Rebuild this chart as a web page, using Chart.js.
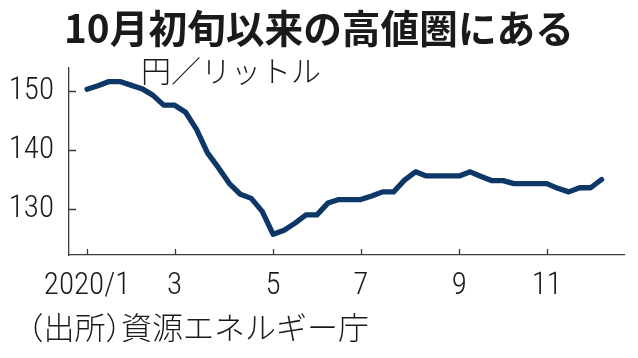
<!DOCTYPE html>
<html>
<head>
<meta charset="utf-8">
<script src="https://cdn.jsdelivr.net/npm/chart.js@4/dist/chart.umd.min.js"></script>
<style>
  html, body { margin: 0; padding: 0; background: #fff; }
  #wrap { position: relative; width: 638px; height: 358px; overflow: hidden; background: #fff; }
  #c { position: absolute; left: 0; top: 0; }
  .t { position: absolute; white-space: nowrap; font-family: "Noto Sans CJK JP", sans-serif; color: #1a1a1a; line-height: 1; }
  #title { left: 0; width: 638px; text-align: center; top: 7px; font-size: 38.7px; font-weight: 700; }
  #unit { left: 141px; top: 54px; font-size: 30px; font-weight: 300; }
  #source { left: 28px; top: 310px; font-size: 31px; font-weight: 300; }
  .h { font-feature-settings: "halt"; }
</style>
</head>
<body>
<div id="wrap">
  <canvas id="c" width="638" height="358"></canvas>
  <div class="t" id="title">10月初旬以来の高値圏にある</div>
  <div class="t" id="unit">円／リットル</div>
  <div class="t" id="source"><span class="h">（</span>出所<span class="h">）</span>資源エネルギー庁</div>
</div>
<script>
// Weekly regular gasoline price, 2020 (yen per litre), one value per week starting first week of January
const prices = [
  150.3, 150.9, 151.6, 151.6, 151.0, 150.4, 149.3, 147.6, 147.6, 146.4,
  143.5, 139.5, 137.0, 134.3, 132.5, 131.8, 129.6, 125.7, 126.4, 127.6,
  129.0, 129.0, 131.0, 131.6, 131.6, 131.6, 132.2, 132.9, 132.9, 134.9,
  136.3, 135.6, 135.6, 135.6, 135.6, 136.3, 135.5, 134.8, 134.8, 134.3,
  134.3, 134.3, 134.3, 133.5, 132.9, 133.6, 133.6, 135.0
];
// Week index at which each month tick sits, and its label
const tickWeeks = [0, 8, 17, 25, 34, 42];
const tickLabels = ['2020/1', '3', '5', '7', '9', '11'];
const yTicks = [130, 140, 150];

const axisColor = '#3a3a3a';
const lineColor = '#0c3766';
const tickFont = { family: "'Roboto Condensed', 'DejaVu Sans Condensed', sans-serif", size: 31, weight: '300' };

const points = prices.map((v, i) => ({ x: i, y: v }));

const innerTicks = {
  id: 'innerTicks',
  afterDraw(chart) {
    const ctx = chart.ctx;
    const xs = chart.scales.x, ys = chart.scales.y;
    const area = chart.chartArea;
    ctx.save();
    ctx.strokeStyle = axisColor;
    ctx.lineWidth = 1.3;
    ctx.beginPath();
    tickWeeks.forEach(w => {
      const px = Math.round(xs.getPixelForValue(w)) + 0.5;
      ctx.moveTo(px, area.bottom);
      ctx.lineTo(px, area.bottom - 6);
    });
    yTicks.forEach(v => {
      const py = Math.round(ys.getPixelForValue(v)) + 0.5;
      ctx.moveTo(area.left, py);
      ctx.lineTo(area.left + 7, py);
    });
    ctx.stroke();
    ctx.restore();
  }
};

new Chart(document.getElementById('c'), {
  type: 'line',
  data: {
    datasets: [{
      data: points,
      borderColor: lineColor,
      borderWidth: 5.3,
      pointRadius: 0,
      tension: 0,
      borderJoinStyle: 'round',
      borderCapStyle: 'round',
      fill: false
    }]
  },
  options: {
    responsive: false,
    animation: false,
    layout: { padding: { top: 68, right: 14, left: 0, bottom: 0 } },
    plugins: { legend: { display: false }, tooltip: { enabled: false }, title: { display: false } },
    scales: {
      x: {
        type: 'linear',
        position: 'bottom',
        min: -1.65,
        max: 49.05,
        afterBuildTicks(scale) { scale.ticks = tickWeeks.map(v => ({ value: v })); },
        afterFit(scale) { scale.height = 103; },
        grid: { display: false },
        border: { display: true, color: axisColor, width: 1.3 },
        ticks: {
          autoSkip: false,
          maxRotation: 0,
          padding: 5,
          color: '#1a1a1a',
          font: tickFont,
          callback(value) { const k = tickWeeks.indexOf(value); return k >= 0 ? tickLabels[k] : ''; }
        }
      },
      y: {
        min: 122.2,
        max: 153.9,
        afterBuildTicks(scale) { scale.ticks = yTicks.map(v => ({ value: v })); },
        afterFit(scale) { scale.width = 69; },
        grid: { display: false },
        border: { display: true, color: axisColor, width: 1.3 },
        ticks: {
          padding: 7,
          color: '#1a1a1a',
          font: tickFont,
          callback(value) { return String(value); }
        }
      }
    }
  },
  plugins: [innerTicks]
});
</script>
</body>
</html>
